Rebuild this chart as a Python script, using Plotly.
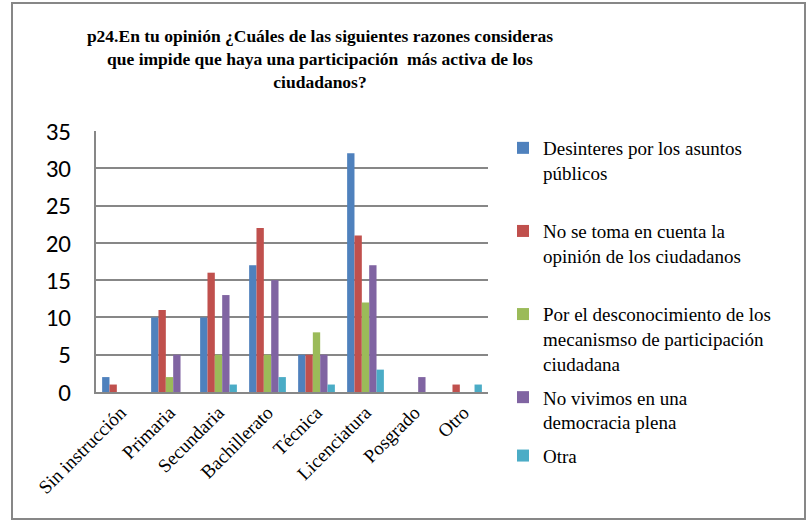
import plotly.graph_objects as go

categories = ["Sin instrucción", "Primaria", "Secundaria", "Bachillerato", "Técnica",
              "Licenciatura", "Posgrado", "Otro"]
series_names = [
    "Desinteres por los asuntos<br>públicos<br>&nbsp;",
    "No se toma en cuenta la<br>opinión de los ciudadanos<br>&nbsp;",
    "Por el desconocimiento de los<br>mecanismso de participación<br>ciudadana",
    "No vivimos en una<br>democracia plena",
    "Otra",
]
desinteres = [2, 10, 10, 17, 5, 32, 0, 0]
no_se_toma = [1, 11, 16, 22, 5, 21, 0, 1]
desconocimiento = [0, 2, 5, 5, 8, 12, 0, 0]
no_vivimos = [0, 5, 13, 15, 5, 17, 2, 0]
otra = [0, 0, 1, 2, 1, 3, 0, 1]
colors = ["#4F81BD", "#C0504D", "#9BBB59", "#8064A2", "#4BACC6"]
y_ticks = [0, 5, 10, 15, 20, 25, 30, 35]

values = [desinteres, no_se_toma, desconocimiento, no_vivimos, otra]

fig = go.Figure()
for name, vals, col in zip(series_names, values, colors):
    fig.add_trace(go.Bar(x=categories, y=vals, name=name, marker_color=col,
                         marker_line_width=0, legendgroup=name))

W, H = 807, 520
L, R, T, B = 96, 488, 131, 392
pw, ph = R - L, B - T

def px2x(px):
    return (px - L) / pw

def px2y(py):
    return (B - py) / ph

fig.update_layout(
    width=W, height=H,
    margin=dict(l=L, r=W - R, t=T, b=H - B, autoexpand=False),
    paper_bgcolor="white", plot_bgcolor="white",
    barmode="group", bargap=0.25, bargroupgap=0,
    font=dict(family="Liberation Serif", color="black"),
    title=dict(
        text="p24.En tu opinión ¿Cuáles de las siguientes razones consideras<br>"
             "que impide que haya una participación  más activa de los<br>ciudadanos?",
        x=320 / W, xanchor="center", xref="container",
        y=1 - 42 / H, yanchor="top", yref="container",
        font=dict(family="Liberation Serif", size=17.5, color="black", weight="bold"),
    ),
    legend=dict(
        x=px2x(503), xanchor="left", y=px2y(129), yanchor="top",
        font=dict(family="Liberation Serif", size=19, color="black"),
        valign="top", tracegroupgap=6, itemwidth=30,
        bgcolor="rgba(0,0,0,0)", maxheight=1.0,
    ),
    xaxis=dict(
        tickangle=-45, tickfont=dict(family="Liberation Serif", size=19, color="black"),
        showline=True, linecolor="#878787", linewidth=2, ticks="", showgrid=False,
        automargin=False,
    ),
    yaxis=dict(
        range=[0, 35], tickvals=y_ticks,
        tickfont=dict(family="Carlito, Lato, sans-serif", size=25, color="black"),
        showline=True, linecolor="#878787", linewidth=2, ticklabelstandoff=18,
        showgrid=True, gridcolor="#878787", gridwidth=1.5, ticks="", zeroline=False,
        automargin=False,
    ),
    shapes=[dict(type="rect", xref="paper", yref="paper",
                 x0=px2x(12), x1=px2x(805), y0=px2y(519), y1=px2y(3),
                 line=dict(color="#878787", width=2), fillcolor="rgba(0,0,0,0)")],
)

fig.write_html(
    "out.html",
    config={"displayModeBar": False},
    post_script="document.body.style.margin='0';document.body.style.overflow='hidden';",
)
